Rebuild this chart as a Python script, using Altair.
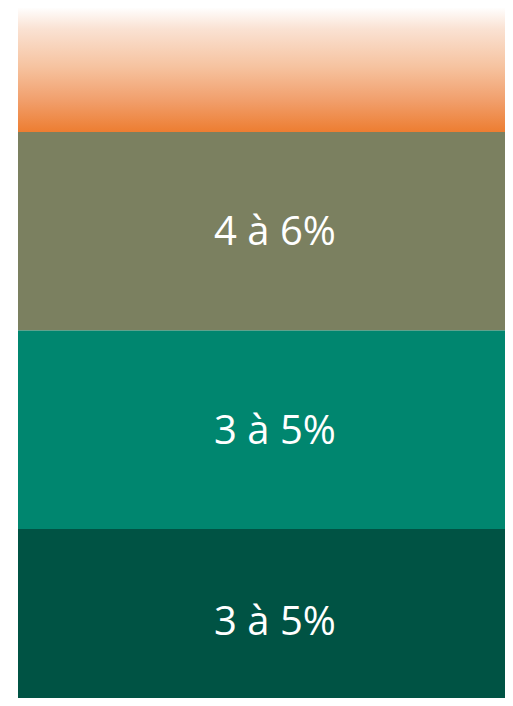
import altair as alt
import pandas as pd

# blocks from top to bottom (row index units)
labels = ["", "4 à 6%", "3 à 5%", "3 à 5%"]
starts = [0.0, 1.0, 2.0, 3.0]
ends = [1.0, 2.0, 3.0, 3.93]
colors = ["gradient", "#7B8060", "#00866F", "#005344"]

df = pd.DataFrame({
    "label": labels,
    "y0": starts,
    "y1": ends,
    "color": colors,
})
df["mid"] = (df["y0"] + df["y1"]) / 2
df["x0"] = 0.0
df["x1"] = 1.0
df["xm"] = 0.5

yscale = alt.Scale(domain=[0.375, 3.851], reverse=True, nice=False, zero=False)
xscale = alt.Scale(domain=[0, 0.9475], nice=False, zero=False)

base = alt.Chart(df)

grad = alt.Gradient(
    gradient="linear",
    x1=0, x2=0, y1=0, y2=1,
    stops=[
        alt.GradientStop(color="#FFFFFF", offset=0.0),
        alt.GradientStop(color="#FFFFFF", offset=0.37),
        alt.GradientStop(color="#FAE2D3", offset=0.48),
        alt.GradientStop(color="#F6C3A0", offset=0.67),
        alt.GradientStop(color="#F19F6C", offset=0.84),
        alt.GradientStop(color="#ED7D31", offset=1.0),
    ],
)

top = base.transform_filter(alt.datum.color == "gradient").mark_rect(
    color=grad, clip=True
).encode(
    x=alt.X("x0:Q", scale=xscale, axis=None),
    x2="x1:Q",
    y=alt.Y("y0:Q", scale=yscale, axis=None),
    y2="y1:Q",
)

blocks = base.transform_filter(alt.datum.color != "gradient").mark_rect(clip=True).encode(
    x=alt.X("x0:Q", scale=xscale, axis=None),
    x2="x1:Q",
    y=alt.Y("y0:Q", scale=yscale, axis=None),
    y2="y1:Q",
    color=alt.Color("color:N", scale=None, legend=None),
)

text = base.mark_text(
    font="Open Sans", fontSize=40, color="white", baseline="alphabetic", dy=14
).encode(
    x=alt.X("xm:Q", scale=xscale, axis=None),
    y=alt.Y("mid:Q", scale=yscale, axis=None),
    text="label:N",
)

chart = alt.layer(top, blocks, text).properties(
    width=487, height=690,
    padding={"left": 10, "top": 0, "right": 0, "bottom": 0},
).configure_view(stroke=None)

chart.save("out.html", embed_options={"renderer": "svg", "actions": False})
